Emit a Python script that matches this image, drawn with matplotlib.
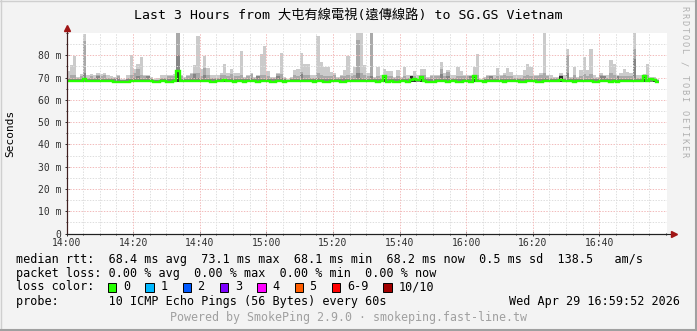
import numpy as np
import matplotlib
matplotlib.use('Agg')
import matplotlib.pyplot as plt
from matplotlib.patches import Rectangle
from matplotlib.lines import Line2D

MONO = ['DejaVu Sans Mono', 'Noto Sans CJK TC']

# одна колонка = одна минута, 14:00 .. 16:58
ping_max = [
    72.9, 75.6, 79.8, 70.3, 71.5, 89.4, 71.0, 71.5, 71.0, 72.0,
    71.5, 72.0, 71.0, 70.5, 70.3, 71.2, 69.5, 69.5, 71.2, 80.0,
    74.0, 75.9, 79.3, 71.2, 71.2, 70.3, 69.5, 69.8, 71.0, 71.0,
    71.2, 71.2, 71.5, 89.9, 71.2, 70.3, 71.2, 72.0, 75.6, 88.6,
    74.0, 79.8, 74.3, 71.0, 71.0, 71.0, 72.0, 75.9, 72.0, 73.8,
    72.0, 72.0, 81.8, 70.3, 71.2, 72.0, 70.3, 71.2, 80.5, 84.2,
    72.8, 70.3, 70.3, 72.0, 81.1, 70.3, 69.5, 70.3, 73.4, 74.0,
    80.8, 76.3, 76.3, 71.0, 71.0, 88.6, 77.0, 74.8, 74.8, 72.5,
    72.0, 70.3, 71.2, 73.4, 79.6, 72.0, 74.8, 90.0, 90.0, 75.6,
    72.0, 90.0, 70.3, 74.8, 71.0, 73.8, 72.8, 72.8, 70.3, 73.4,
    70.3, 74.8, 71.0, 71.0, 72.8, 71.2, 73.8, 73.8, 70.3, 71.0,
    71.2, 71.2, 76.8, 72.0, 73.4, 71.0, 71.0, 74.8, 72.8, 71.2,
    71.2, 71.2, 74.8, 80.5, 69.5, 70.3, 71.2, 71.2, 71.0, 74.3,
    71.2, 72.0, 74.3, 72.3, 71.0, 71.0, 71.0, 73.4, 76.0, 74.8,
    71.2, 71.2, 72.0, 90.0, 71.2, 71.0, 70.3, 70.3, 72.0, 71.0,
    82.7, 70.3, 74.8, 70.3, 73.4, 79.3, 73.4, 82.7, 71.0, 70.3,
    72.0, 71.2, 71.0, 77.8, 76.3, 71.0, 72.0, 73.8, 72.5, 72.0,
    90.0, 71.0, 71.0, 71.5, 76.3, 70.3, 70.3, 69.5,
]

ping_hi = [
    70.0, 71.0, 71.0, 70.0, 70.5, 86.3, 70.0, 70.5, 70.0, 71.0,
    70.5, 71.0, 70.0, 70.0, 70.0, 70.5, 69.0, 69.0, 70.0, 71.0,
    72.0, 74.0, 71.0, 70.5, 70.5, 70.0, 69.0, 69.0, 70.0, 70.0,
    70.5, 70.5, 70.5, 89.9, 70.5, 70.0, 70.5, 71.5, 72.0, 72.0,
    70.5, 74.5, 71.0, 70.0, 70.0, 70.0, 71.0, 71.0, 70.5, 71.5,
    70.5, 70.5, 71.0, 70.0, 70.5, 71.5, 70.0, 70.5, 71.0, 71.0,
    70.5, 70.0, 70.0, 71.5, 71.5, 70.0, 69.0, 70.0, 71.0, 70.5,
    72.5, 71.0, 71.0, 70.0, 70.0, 72.0, 71.0, 70.5, 70.5, 70.5,
    71.0, 70.0, 70.5, 70.5, 71.0, 70.5, 71.0, 86.8, 72.0, 71.0,
    70.5, 90.0, 70.0, 70.5, 70.0, 71.0, 70.5, 70.5, 70.0, 70.5,
    70.0, 70.5, 70.0, 70.5, 70.5, 70.0, 71.0, 71.0, 70.0, 70.5,
    70.5, 70.5, 74.0, 70.5, 72.5, 70.0, 70.0, 70.5, 70.5, 70.5,
    70.5, 70.5, 71.0, 71.0, 69.0, 70.0, 70.5, 70.5, 70.0, 70.5,
    70.5, 71.0, 70.5, 70.5, 70.0, 70.0, 70.0, 70.5, 71.0, 70.5,
    70.5, 70.5, 71.0, 72.0, 70.5, 70.0, 70.0, 70.0, 71.0, 70.0,
    80.0, 70.0, 71.0, 70.0, 70.5, 71.5, 70.5, 71.5, 70.0, 70.0,
    71.0, 70.5, 70.0, 72.0, 71.0, 70.5, 70.5, 70.5, 70.5, 70.5,
    82.7, 70.0, 70.0, 70.5, 71.0, 70.0, 70.0, 69.0,
]

ping_mid = [
    69.2, 69.5, 69.5, 69.2, 69.5, 72.0, 69.2, 69.5, 69.2, 70.5,
    69.5, 69.5, 69.2, 69.2, 69.2, 70.0, 68.8, 68.8, 69.2, 69.5,
    70.0, 70.5, 69.5, 69.5, 70.5, 69.2, 68.8, 68.8, 69.2, 69.2,
    69.5, 69.5, 69.5, 80.3, 69.5, 69.2, 69.5, 70.0, 71.5, 70.0,
    69.5, 71.0, 69.5, 69.2, 69.2, 69.2, 70.0, 69.5, 69.5, 70.0,
    69.5, 69.5, 69.5, 69.2, 69.5, 70.0, 69.2, 70.5, 69.5, 69.5,
    69.5, 69.2, 69.2, 70.5, 70.0, 69.2, 68.8, 69.2, 69.5, 69.5,
    71.5, 69.5, 69.5, 69.2, 69.2, 70.0, 69.5, 69.5, 69.5, 69.5,
    69.5, 69.2, 69.5, 70.0, 69.5, 69.5, 69.5, 72.0, 70.0, 69.5,
    69.5, 70.5, 69.2, 69.5, 69.2, 69.5, 69.5, 69.5, 69.2, 69.5,
    69.2, 69.5, 69.2, 69.5, 69.5, 69.2, 69.5, 70.0, 69.2, 69.5,
    69.5, 69.5, 71.5, 69.5, 70.5, 69.2, 69.5, 69.5, 69.5, 69.5,
    69.5, 70.5, 69.5, 69.5, 68.8, 69.2, 69.5, 70.5, 69.2, 69.5,
    69.5, 69.5, 69.5, 69.5, 69.2, 69.2, 69.2, 69.5, 69.5, 69.5,
    69.5, 69.5, 69.5, 70.0, 69.5, 69.2, 69.2, 69.2, 69.5, 69.2,
    72.0, 69.2, 70.0, 69.2, 69.5, 69.5, 69.5, 69.5, 69.2, 69.2,
    70.5, 70.5, 69.2, 69.5, 69.5, 70.5, 69.5, 69.5, 69.5, 69.5,
    78.3, 69.2, 69.2, 69.5, 69.5, 69.2, 69.2, 68.8,
]

median = [
    68.3, 68.3, 68.3, 68.3, 68.3, 69.5, 68.3, 68.3, 68.3, 68.3,
    68.3, 68.3, 68.3, 68.3, 68.1, 68.1, 68.1, 68.1, 68.1, 68.3,
    68.3, 68.3, 68.3, 68.3, 68.3, 68.3, 68.1, 68.1, 68.3, 68.3,
    68.1, 68.1, 68.3, 73.1, 68.3, 68.3, 68.3, 68.3, 68.3, 68.3,
    68.3, 68.3, 68.3, 68.1, 68.1, 68.3, 68.3, 68.8, 68.3, 68.3,
    68.1, 68.3, 68.3, 68.1, 68.3, 68.3, 68.3, 68.1, 68.3, 68.3,
    68.3, 68.1, 68.1, 68.3, 68.3, 68.1, 68.3, 68.3, 68.3, 68.3,
    68.3, 68.3, 68.3, 68.3, 68.1, 68.3, 68.3, 68.1, 68.1, 68.3,
    68.3, 68.3, 68.1, 68.1, 68.3, 68.3, 68.3, 68.3, 68.3, 68.3,
    68.3, 68.3, 68.3, 68.1, 68.3, 70.6, 68.1, 68.3, 68.1, 68.1,
    68.3, 68.3, 68.1, 69.0, 69.5, 68.8, 70.2, 68.3, 68.1, 68.1,
    68.1, 68.3, 68.3, 68.3, 68.1, 68.3, 68.3, 68.1, 68.1, 68.3,
    68.3, 68.1, 70.6, 68.3, 68.3, 68.1, 68.3, 68.3, 68.3, 68.3,
    68.3, 68.1, 68.3, 68.6, 68.3, 68.3, 68.1, 68.1, 68.3, 68.3,
    68.3, 68.1, 68.1, 68.3, 68.3, 68.3, 68.3, 68.3, 69.0, 68.3,
    68.3, 68.3, 68.1, 68.3, 68.3, 68.3, 68.3, 68.3, 68.1, 68.1,
    68.3, 68.6, 68.3, 68.1, 68.3, 68.1, 68.3, 68.3, 68.3, 68.3,
    68.3, 68.3, 68.3, 70.6, 68.3, 69.5, 68.8, 68.0,
]

# плотные (почти чёрные) участки дыма
core_minute = [33, 47, 95, 103, 104, 106, 122, 148, 173, 176]
core_top = [73.5, 69.0, 70.8, 70.5, 70.0, 70.8, 70.8, 70.5, 71.0, 69.5]

SMOKE_FLOOR = 67.9

time_labels = ['14:00', '14:20', '14:40', '15:00', '15:20', '15:40', '16:00', '16:20', '16:40']
rtt_stats = [68.4, 73.1, 68.1, 68.2, 0.5, 138.5]
loss_stats = [0.00, 0.00, 0.00, 0.00]
loss_labels = ['0', '1', '2', '3', '4', '5', '6-9', '10/10']
loss_colors = ['#26ff00', '#00b8ff', '#0059ff', '#7e00ff', '#ff00ff', '#ff5e00', '#ff0000', '#a10000']

W, H = 697, 331
fig = plt.figure(figsize=(W / 100, H / 100), dpi=100, facecolor='#f3f3f3')

def fx(px):
    return px / W

def fy(py):
    return 1 - py / H

ax = fig.add_axes([fx(66.5), fy(233.5), fx(667) - fx(66.5), fy(33) - fy(233.5)])
ax.set_facecolor('white')

n = len(ping_max)
x = np.arange(n)
floor = np.full(n, SMOKE_FLOOR)
ax.bar(x, np.array(ping_max) - floor, bottom=floor, width=1.0, align='edge', color='#cbcbcb', lw=0, zorder=2)
ax.bar(x, np.array(ping_hi) - floor, bottom=floor, width=1.0, align='edge', color='#a9a9a9', lw=0, zorder=2)
ax.bar(x, np.array(ping_mid) - floor, bottom=floor, width=1.0, align='edge', color='#858585', lw=0, zorder=2)
ax.bar(core_minute, np.array(core_top) - SMOKE_FLOOR, bottom=SMOKE_FLOOR, width=1.0, align='edge',
       color='#2a2a2a', lw=0, zorder=2)
ax.stairs(median, np.arange(n + 1), baseline=None, color='#26ff00', lw=1.7, zorder=4)

ax.set_xlim(0, 180.3)
ax.set_ylim(0, 90)

ax.set_xticks(np.arange(0, 161, 20))
ax.set_xticks(np.arange(0, 181, 5), minor=True)
ax.set_xticklabels(time_labels, family=MONO, fontsize=7)
ax.set_yticks(np.arange(0, 81, 10))
ax.set_yticks(np.arange(0, 91, 5), minor=True)
ax.set_yticklabels(['0'] + ['%d m' % v for v in range(10, 81, 10)], family=MONO, fontsize=7)
ax.tick_params(which='both', colors='#303030', direction='inout', length=3, width=0.7, pad=2)
ax.tick_params(which='minor', length=2)

for v in np.arange(5, 86, 5):
    c = '#f2bcbc' if v % 10 == 0 else '#dedede'
    ax.axhline(v, color=c, lw=0.72, ls=(0, (1.4, 1.4)), zorder=3)
for v in np.arange(5, 176, 5):
    c = '#f2bcbc' if v % 20 == 0 else '#dedede'
    ax.axvline(v, color=c, lw=0.72, ls=(0, (1.4, 1.4)), zorder=3)

for s in ['top', 'right']:
    ax.spines[s].set_visible(False)
ax.spines['left'].set_color('#402020')
ax.spines['bottom'].set_color('#202020')
ax.spines['left'].set_linewidth(0.8)
ax.spines['bottom'].set_linewidth(0.8)
ax.spines['left'].set_zorder(5)
ax.spines['bottom'].set_zorder(5)

# стрелки осей
ax.plot([0, 1.008], [0, 0], transform=ax.transAxes, color='#202020', lw=0.8, clip_on=False, zorder=5)
ax.plot([0, 0], [0, 1.02], transform=ax.transAxes, color='#402020', lw=0.8, clip_on=False, zorder=5)
ax.plot([1.012], [0], transform=ax.transAxes, marker='>', ms=4, color='#a01515', clip_on=False, zorder=6)
ax.plot([0], [1.025], transform=ax.transAxes, marker='^', ms=4, color='#a01515', clip_on=False, zorder=6)

fig.text(fx(10), fy(133), 'Seconds', rotation=90, family=MONO, fontsize=8, ha='center', va='center')

fig.text(fx(348.5), fy(15), 'Last 3 Hours from 大屯有線電視(遠傳線路) to SG.GS Vietnam',
         family=MONO, fontsize=9.5, ha='center', va='center')

wm = 'RRDTOOL / TOBI OETIKER'
for i, ch in enumerate(wm):
    fig.text(fx(684), fy(8.5 + i * 6.95), ch, rotation=-90, family=MONO, fontsize=6.3,
             color='#b0b0b0', ha='center', va='center')

LX = 16
fs = 8.5
line1 = 'median rtt:  %.1f ms avg  %.1f ms max  %.1f ms min  %.1f ms now  %.1f ms sd  %.1f   am/s' % tuple(rtt_stats)
line2 = 'packet loss: %.2f %% avg  %.2f %% max  %.2f %% min  %.2f %% now' % tuple(loss_stats)
fig.text(fx(LX), fy(259), line1, family=MONO, fontsize=fs, va='center')
fig.text(fx(LX), fy(273), line2, family=MONO, fontsize=fs, va='center')
fig.text(fx(LX), fy(287), 'loss color:', family=MONO, fontsize=fs, va='center')
bx = 108.0
for lab, col in zip(loss_labels, loss_colors):
    fig.patches.append(Rectangle((fx(bx), fy(291.5)), fx(8.4), fy(283) - fy(291.5), facecolor=col,
                                 edgecolor='black', lw=0.7, transform=fig.transFigure, figure=fig))
    fig.text(fx(bx + 15), fy(287), lab, family=MONO, fontsize=fs, va='center')
    bx += 15 + 7.1 * len(lab) + 15.2
fig.text(fx(LX), fy(301), 'probe:       10 ICMP Echo Pings (56 Bytes) every 60s', family=MONO, fontsize=fs, va='center')
fig.text(fx(680), fy(301), 'Wed Apr 29 16:59:52 2026', family=MONO, fontsize=fs, va='center', ha='right')
fig.text(fx(348.5), fy(318), 'Powered by SmokePing 2.9.0 · smokeping.fast-line.tw', family=MONO, fontsize=8.4,
         color='#a0a0a0', ha='center', va='center')

# рамка картинки
fig.add_artist(Line2D([0, 1], [fy(0.5), fy(0.5)], transform=fig.transFigure, color='#cfcfcf', lw=1))
fig.add_artist(Line2D([fx(0.5), fx(0.5)], [0, 1], transform=fig.transFigure, color='#cfcfcf', lw=1))
fig.add_artist(Line2D([0, 1], [fy(330), fy(330)], transform=fig.transFigure, color='#a0a0a0', lw=1.5))
fig.add_artist(Line2D([fx(696), fx(696)], [0, 1], transform=fig.transFigure, color='#a0a0a0', lw=1.5))

fig.savefig('out.png', dpi=100, facecolor=fig.get_facecolor())
